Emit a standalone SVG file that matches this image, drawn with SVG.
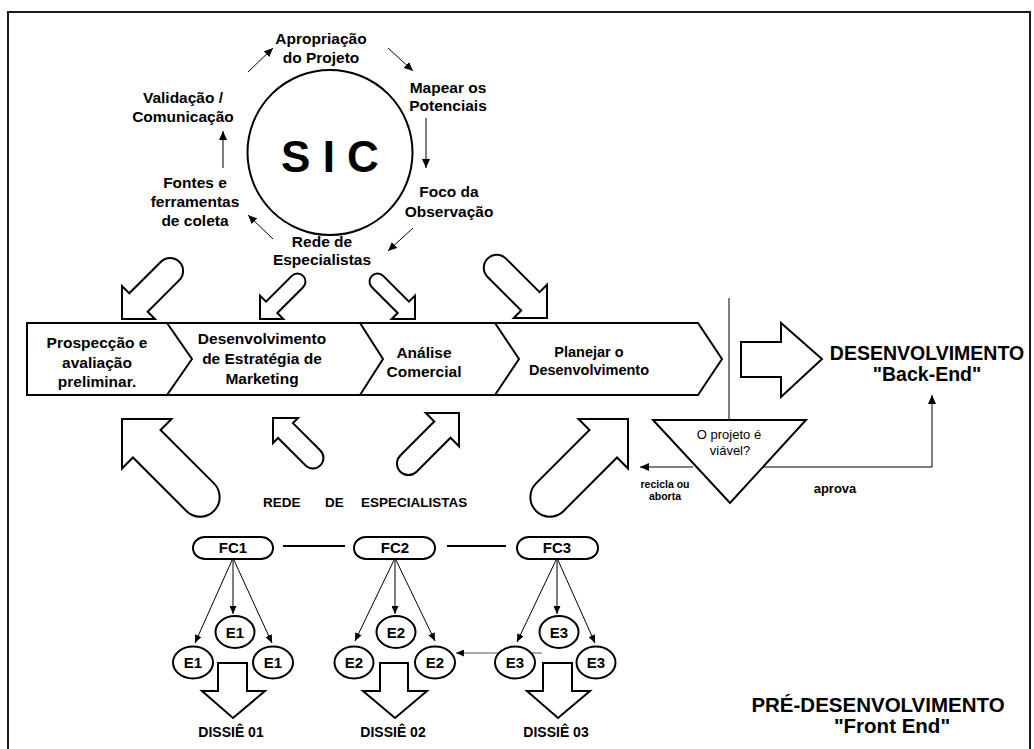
<svg xmlns="http://www.w3.org/2000/svg" width="1034" height="749" viewBox="0 0 1034 749">
<defs>
<marker id="ah" markerWidth="9" markerHeight="8" refX="9" refY="4" orient="auto" markerUnits="userSpaceOnUse"><path d="M0,0 L9,4 L0,8 Z" fill="#000"/></marker>
<marker id="ahs" markerWidth="8" markerHeight="7" refX="8" refY="3.5" orient="auto" markerUnits="userSpaceOnUse"><path d="M0,0 L8,3.5 L0,7 Z" fill="#000"/></marker>
</defs>
<style>
text{font-family:"Liberation Sans",Arial,Helvetica,sans-serif;fill:#000;text-anchor:middle}
.b{font-weight:bold}
.lbl{font-size:15.5px;font-weight:bold}
.blk{fill:#fff;stroke:#000;stroke-width:2;stroke-linejoin:miter}
.thin{stroke:#000;stroke-width:1;fill:none}
.med{stroke:#000;stroke-width:2;fill:none}
.node{fill:#fff;stroke:#000;stroke-width:2}
</style>
<rect x="0" y="0" width="1034" height="749" fill="#fff"/>
<rect x="8" y="12" width="1022" height="760" fill="none" stroke="#1a1a1a" stroke-width="2"/>

<g id="sic">
<circle cx="330" cy="152.5" r="82.5" class="node"/>
<text x="330" y="172" class="b" style="font-size:44px">S I C</text>
</g>
<g id="sic-labels">
<text class="lbl" x="321" y="44">Apropriação</text>
<text class="lbl" x="321" y="63">do Projeto</text>
<text class="lbl" x="448" y="93">Mapear os</text>
<text class="lbl" x="448" y="111">Potenciais</text>
<text class="lbl" x="449" y="197">Foco da</text>
<text class="lbl" x="449" y="217">Observação</text>
<text class="lbl" x="322" y="247">Rede de</text>
<text class="lbl" x="322" y="265">Especialistas</text>
<text class="lbl" x="195" y="188">Fontes e</text>
<text class="lbl" x="195" y="207">ferramentas</text>
<text class="lbl" x="195" y="226">de coleta</text>
<text class="lbl" x="183" y="103">Validação /</text>
<text class="lbl" x="183" y="122">Comunicação</text>
</g>

<g id="band">
<path class="blk" d="M27,323 L698,323 L722,359 L698,395 L27,395 Z"/>
<path class="med" d="M167,323 L192,359 L167,395 M360,323 L383,359 L360,395 M495,323 L519,359 L495,395"/>
<text class="lbl" x="97" y="348">Prospecção e</text>
<text class="lbl" x="97" y="368">avaliação</text>
<text class="lbl" x="97" y="387">preliminar.</text>
<text class="lbl" x="262" y="344">Desenvolvimento</text>
<text class="lbl" x="262" y="364">de Estratégia de</text>
<text class="lbl" x="262" y="384">Marketing</text>
<text class="lbl" x="424" y="358">Análise</text>
<text class="lbl" x="424" y="377">Comercial</text>
<text class="b" style="font-size:14.5px" x="589" y="357">Planejar o</text>
<text class="b" style="font-size:14.5px" x="589" y="375">Desenvolvimento</text>
</g>

<g id="block-arrows">
<path class="blk" transform="translate(122,319) rotate(135)" d="M0,0 L-23.3,-23.3 L-23.3,-13 L-68,-13 A13,13 0 0 0 -68,13 L-23.3,13 L-23.3,23.3 Z"/>
<path class="blk" transform="translate(260,319) rotate(135)" d="M0,0 L-16.5,-16.5 L-16.5,-8 L-53,-8 A8,8 0 0 0 -53,8 L-16.5,8 L-16.5,16.5 Z"/>
<path class="blk" transform="translate(415,319) rotate(45)" d="M0,0 L-16.5,-16.5 L-16.5,-8 L-53,-8 A8,8 0 0 0 -53,8 L-16.5,8 L-16.5,16.5 Z"/>
<path class="blk" transform="translate(547,318) rotate(45)" d="M0,0 L-23.5,-23.5 L-23.5,-13 L-71,-13 A13,13 0 0 0 -71,13 L-23.5,13 L-23.5,23.5 Z"/>
<path class="blk" transform="translate(122,419) rotate(-135)" d="M0,0 L-35,-35 L-35,-19.5 L-110.5,-19.5 A19.5,19.5 0 0 0 -110.5,19.5 L-35,19.5 L-35,35 Z"/>
<path class="blk" transform="translate(273,418) rotate(-135)" d="M0,0 L-17.7,-17.7 L-17.7,-10.5 L-56.5,-10.5 A10.5,10.5 0 0 0 -56.5,10.5 L-17.7,10.5 L-17.7,17.7 Z"/>
<path class="blk" transform="translate(459,413) rotate(-45)" d="M0,0 L-23.5,-23.5 L-23.5,-11.5 L-71.5,-11.5 A11.5,11.5 0 0 0 -71.5,11.5 L-23.5,11.5 L-23.5,23.5 Z"/>
<path class="blk" transform="translate(628,419) rotate(-45)" d="M0,0 L-35,-35 L-35,-19.5 L-110.5,-19.5 A19.5,19.5 0 0 0 -110.5,19.5 L-35,19.5 L-35,35 Z"/>
<path class="blk" d="M741,342 L781,342 L781,323 L822,359 L781,397 L781,377 L741,377 Z"/>
</g>

<g id="rede-label">
<text class="b" style="font-size:13.5px;text-anchor:start" x="263" y="507">REDE</text>
<text class="b" style="font-size:13.5px;text-anchor:start" x="325" y="507">DE</text>
<text class="b" style="font-size:13.5px;text-anchor:start" x="361" y="507">ESPECIALISTAS</text>
</g>

<g id="decision">
<path class="blk" d="M653,420 L806,420 L730,503 Z"/>
<text x="729" y="439" style="font-size:13px">O projeto é</text>
<text x="730" y="455" style="font-size:13px">viável?</text>
</g>

<g id="back-end">
<text class="b" x="927" y="360" style="font-size:19.5px">DESENVOLVIMENTO</text>
<text class="b" x="927" y="381" style="font-size:19.5px">"Back-End"</text>
</g>

<g id="front-end">
<text class="b" x="878" y="712" style="font-size:20.5px">PRÉ-DESENVOLVIMENTO</text>
<text class="b" x="892" y="733" style="font-size:20.5px">"Front End"</text>
</g>

<g id="connectors">
<line class="thin" x1="248" y1="72" x2="273" y2="48" marker-end="url(#ah)"/>
<line class="thin" x1="388" y1="48" x2="413" y2="71" marker-end="url(#ah)"/>
<line class="thin" x1="426" y1="118" x2="426" y2="168" marker-end="url(#ah)"/>
<line class="thin" x1="413" y1="228" x2="388" y2="251" marker-end="url(#ah)"/>
<line class="thin" x1="273" y1="239" x2="248" y2="215" marker-end="url(#ah)"/>
<line class="thin" x1="223" y1="168" x2="223" y2="131" marker-end="url(#ah)"/>
<line class="thin" x1="729" y1="298" x2="729" y2="420"/>
<polyline class="thin" points="763,467 932,467 932,395" marker-end="url(#ah)"/>
<line class="thin" x1="693" y1="467" x2="640" y2="467" marker-end="url(#ah)"/>
<line class="med" x1="283" y1="546" x2="345" y2="546"/>
<line class="med" x1="447" y1="546" x2="506" y2="546"/>
<line class="thin" x1="233" y1="558" x2="233" y2="614" marker-end="url(#ahs)"/>
<line class="thin" x1="233" y1="558" x2="195" y2="643" marker-end="url(#ahs)"/>
<line class="thin" x1="233" y1="558" x2="272" y2="643" marker-end="url(#ahs)"/>
<line class="thin" x1="395" y1="558" x2="395" y2="614" marker-end="url(#ahs)"/>
<line class="thin" x1="395" y1="558" x2="355" y2="641" marker-end="url(#ahs)"/>
<line class="thin" x1="395" y1="558" x2="435" y2="641" marker-end="url(#ahs)"/>
<line class="thin" x1="557" y1="558" x2="557" y2="614" marker-end="url(#ahs)"/>
<line class="thin" x1="557" y1="558" x2="517" y2="642" marker-end="url(#ahs)"/>
<line class="thin" x1="557" y1="558" x2="595" y2="643" marker-end="url(#ahs)"/>
<line x1="542" y1="653" x2="456" y2="653" stroke="#555" stroke-width="1" marker-end="url(#ahs)"/>
</g>

<g id="decision-labels">
<text class="b" x="665" y="488" style="font-size:10.5px">recicla ou</text>
<text class="b" x="665" y="500" style="font-size:10.5px">aborta</text>
<text class="b" x="835" y="493" style="font-size:13px">aprova</text>
</g>

<g id="fc1">
<rect class="node" x="193" y="537" width="80" height="22" rx="12" ry="11"/>
<text class="b" x="233" y="553" style="font-size:15px">FC1</text>
</g>
<g id="fc2">
<rect class="node" x="354" y="537" width="81" height="22" rx="12" ry="11"/>
<text class="b" x="395" y="553" style="font-size:15px">FC2</text>
</g>
<g id="fc3">
<rect class="node" x="517" y="537" width="81" height="22" rx="12" ry="11"/>
<text class="b" x="557" y="553" style="font-size:15px">FC3</text>
</g>

<g id="e1-top"><ellipse class="node" cx="235" cy="632" rx="19.5" ry="16"/><text class="b" x="235" y="637.5" style="font-size:15px">E1</text></g>
<g id="e1-left"><ellipse class="node" cx="193" cy="662.5" rx="20" ry="16"/><text class="b" x="193" y="668" style="font-size:15px">E1</text></g>
<g id="e1-right"><ellipse class="node" cx="273" cy="662.5" rx="20" ry="16"/><text class="b" x="273" y="668" style="font-size:15px">E1</text></g>
<g id="e2-top"><ellipse class="node" cx="396" cy="632" rx="19.5" ry="16"/><text class="b" x="396" y="637.5" style="font-size:15px">E2</text></g>
<g id="e2-left"><ellipse class="node" cx="354" cy="662.5" rx="19.5" ry="16"/><text class="b" x="354" y="668" style="font-size:15px">E2</text></g>
<g id="e2-right"><ellipse class="node" cx="435" cy="662.5" rx="20" ry="16"/><text class="b" x="435" y="668" style="font-size:15px">E2</text></g>
<g id="e3-top"><ellipse class="node" cx="559" cy="632" rx="19.5" ry="16"/><text class="b" x="559" y="637.5" style="font-size:15px">E3</text></g>
<g id="e3-left"><ellipse class="node" cx="515" cy="662.5" rx="20" ry="16"/><text class="b" x="515" y="668" style="font-size:15px">E3</text></g>
<g id="e3-right"><ellipse class="node" cx="596" cy="662.5" rx="19.5" ry="16"/><text class="b" x="596" y="668" style="font-size:15px">E3</text></g>

<g id="dossie-arrows">
<path class="blk" stroke-width="2.5" d="M218,663 L247,663 L247,691 L265,691 L233,718 L202,691 L218,691 Z"/>
<path class="blk" stroke-width="2.5" d="M380,663 L408,663 L408,691 L427,691 L395,718 L363,691 L380,691 Z"/>
<path class="blk" stroke-width="2.5" d="M543,663 L572,663 L572,691 L590,691 L558,718 L527,691 L543,691 Z"/>
</g>
<g id="dossie-labels">
<text class="b" x="231" y="737" style="font-size:14px">DISSIÊ 01</text>
<text class="b" x="393" y="737" style="font-size:14px">DISSIÊ 02</text>
<text class="b" x="556" y="737" style="font-size:14px">DISSIÊ 03</text>
</g>
</svg>
